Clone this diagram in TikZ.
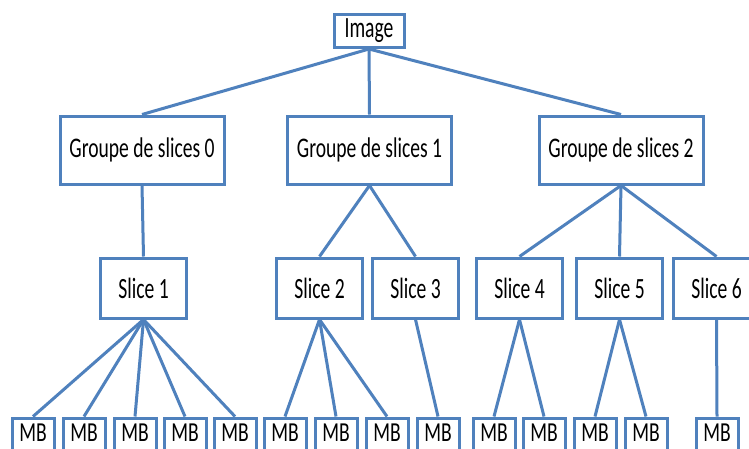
\documentclass[tikz,border=0pt]{standalone}
\usepackage{fontspec}
\setmainfont{Carlito}
\definecolor{edgeblue}{RGB}{79,129,189}
\newcommand{\vtxt}[2]{\scalebox{1}[#1]{#2}}
\begin{document}
\begin{tikzpicture}[x=1pt,y=-1pt,
  box/.style={draw=edgeblue, line width=3pt, fill=white, inner sep=0pt, text=black,
    font=\fontsize{19.6}{22}\selectfont},
  imgbox/.style={box, minimum width=70pt, minimum height=33pt},
  grpbox/.style={box, minimum width=164pt, minimum height=68pt},
  slbox/.style={box, minimum width=86pt, minimum height=60pt},
  mbbox/.style={box, minimum width=42pt, minimum height=36pt, text depth=7pt},
  edge/.style={draw=edgeblue, line width=3pt}]
\fill[white] (0,0) rectangle (749,448);
\clip (0,0) rectangle (749,448);
\useasboundingbox (0,0) rectangle (749,448);

\node[imgbox] (img) at (369,31) {\vtxt{1.5}{Image}};

\node[grpbox] (g0) at (142,150) {\vtxt{1.45}{Groupe de slices 0}};
\node[grpbox] (g1) at (369.5,150) {\vtxt{1.45}{Groupe de slices 1}};
\node[grpbox] (g2) at (621,150) {\vtxt{1.45}{Groupe de slices 2}};

\node[slbox] (s1) at (143.5,288) {\vtxt{1.5}{Slice 1}};
\node[slbox] (s2) at (319.5,288) {\vtxt{1.5}{Slice 2}};
\node[slbox] (s3) at (415.5,288) {\vtxt{1.5}{Slice 3}};
\node[slbox] (s4) at (519.5,288) {\vtxt{1.5}{Slice 4}};
\node[slbox] (s5) at (619.5,288) {\vtxt{1.5}{Slice 5}};
\node[slbox] (s6) at (716.5,288) {\vtxt{1.5}{Slice 6}};

\foreach \i/\x in {1/33,2/84,3/135,4/185,5/235,6/285,7/336,8/387,9/438,10/494,11/544,12/595,13/646,14/717}
  \node[mbbox] (mb\i) at (\x,436) {\vtxt{1.4}{MB}};

\foreach \a/\b in {img/g0,img/g1,img/g2,
  g0/s1,g1/s2,g1/s3,g2/s4,g2/s5,g2/s6,
  s1/mb1,s1/mb2,s1/mb3,s1/mb4,s1/mb5,
  s2/mb6,s2/mb7,s2/mb8,s3/mb9,
  s4/mb10,s4/mb11,s5/mb12,s5/mb13,s6/mb14}
  \draw[edge] (\a.south) -- (\b.north);
\end{tikzpicture}
\end{document}
